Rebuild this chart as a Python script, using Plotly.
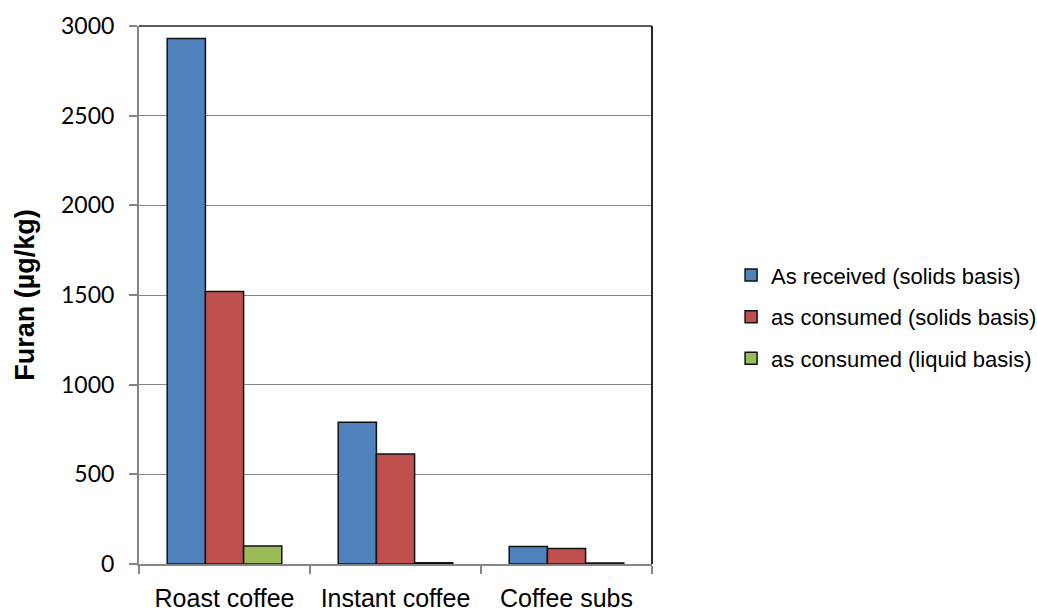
import plotly.graph_objects as go

# Furan content of coffee products
categories = ["Roast coffee", "Instant coffee", "Coffee subs"]
series_names = [
    "As received (solids basis)",
    "as consumed (solids basis)",
    "as consumed (liquid basis)",
]
as_received_solids = [2930, 790, 98]
as_consumed_solids = [1520, 613, 87]
as_consumed_liquid = [100, 7, 6]
y_ticks = [0, 500, 1000, 1500, 2000, 2500, 3000]

series_values = [as_received_solids, as_consumed_solids, as_consumed_liquid]
colors = ["#4F81BD", "#C0504D", "#9BBB59"]

fig = go.Figure()
for i, (name, vals, col) in enumerate(zip(series_names, series_values, colors)):
    fig.add_trace(go.Bar(
        x=categories, y=vals, name=name,
        marker=dict(color=col, line=dict(color="#111111", width=1.5)),
        legendgroup=f"g{i}",
    ))

axis_grey = "#868686"
fig.update_layout(
    width=1037, height=614,
    margin=dict(l=139, r=385, t=26, b=50, autoexpand=False),
    paper_bgcolor="white", plot_bgcolor="white",
    barmode="group", bargap=0.33, bargroupgap=0,
    showlegend=True,
    legend=dict(
        xref="container", yref="container",
        x=0.705, xanchor="left", y=0.484, yanchor="middle",
        font=dict(family="Liberation Sans, Arial, sans-serif", size=22, color="#000000"),
        traceorder="grouped", tracegroupgap=10,
        bgcolor="rgba(0,0,0,0)",
    ),
    xaxis=dict(
        automargin=False,
        showline=True, linecolor=axis_grey, linewidth=2,
        ticks="outside", tickson="boundaries", ticklen=8, tickcolor=axis_grey, tickwidth=2,
        ticklabelstandoff=11,
        tickfont=dict(family="Liberation Sans, Arial, sans-serif", size=25, color="#000000"),
        showgrid=False, zeroline=False,
    ),
    yaxis=dict(
        automargin=False,
        range=[0, 3000], tickvals=y_ticks,
        showline=True, linecolor=axis_grey, linewidth=2,
        ticks="outside", ticklen=8, tickcolor=axis_grey, tickwidth=2,
        ticklabelstandoff=10,
        tickfont=dict(family="Lato, sans-serif", size=23, color="#000000"),
        showgrid=True, gridcolor=axis_grey, gridwidth=1,
        zeroline=False,
        title=dict(text="Furan (µg/kg)", standoff=19,
                   font=dict(family="Liberation Sans, Arial, sans-serif", size=27, color="#000000",
                             weight="bold")),
    ),
    shapes=[
        dict(type="line", xref="paper", yref="paper", x0=0, x1=1, y0=1, y1=1,
             line=dict(color="#262626", width=1.5)),
        dict(type="line", xref="paper", yref="paper", x0=1, x1=1, y0=0, y1=1,
             line=dict(color="#262626", width=2)),
    ],
)

fig.write_html("out.html")
